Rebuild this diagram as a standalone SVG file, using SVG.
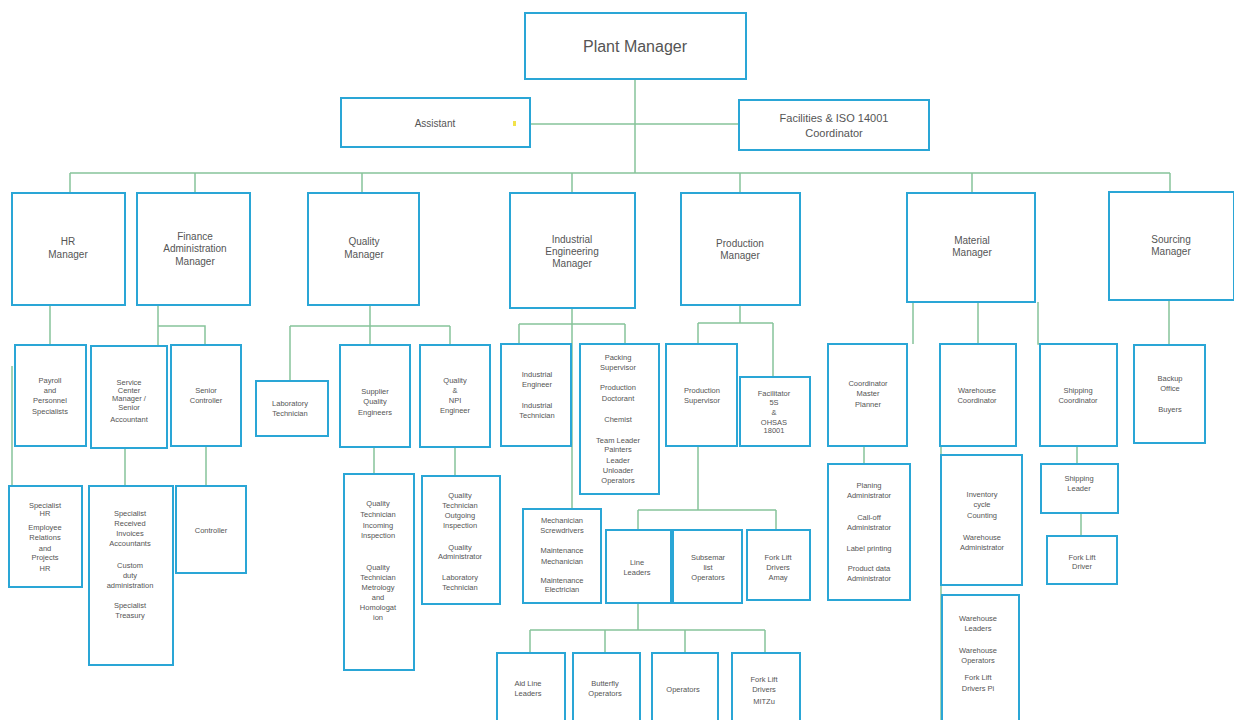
<svg xmlns="http://www.w3.org/2000/svg" width="1234" height="720" viewBox="0 0 1234 720">
<style>
.b{fill:#fff;stroke:#2aa6d6;stroke-width:2}
.c{fill:none;stroke:#86c49a;stroke-width:1.5}
text{font-family:"Liberation Sans",Arial,sans-serif;fill:#555;text-anchor:middle}
.s{font-size:7.5px}
.m{font-size:10px}
.l{font-size:11px}
.p{font-size:16px}
</style>
<rect width="1234" height="720" fill="#fff"/>
<g id="connectors">
<path class="c" d="M635 79V173M530 124H739M70 173H1170M70 173V193M195 173V193M362 173V193M572 173V193M740 173V193M972 173V193M1170 173V193"/>
<path class="c" d="M50 305V345M12 366V486M158 305V346M158 326H205V345M125 448V486M206 446V486"/>
<path class="c" d="M370 305V326M290 326H450M290 326V381M370 326V345M450 326V345M374 447V474M455 447V476"/>
<path class="c" d="M572 308V509M519 324H625M519 324V344M625 324V344"/>
<path class="c" d="M740 305V323M698 323H773M698 323V344M773 323V377M698 446V510M638 510H776M638 510V530M776 510V530M638 603V630M530 630H765M530 630V653M605 630V653M685 630V653M765 630V653"/>
<path class="c" d="M913 302V344M978 302V344M1038 302V344H1075M864 446V464M941 446V720M1077 446V464M1081 513V536M1169 300V345"/>
</g>
<g id="plant-manager"><rect class="b" x="525" y="13" width="221" height="66"/><text class="p" x="635" y="52">Plant Manager</text></g>
<g id="assistant"><rect class="b" x="341" y="98" width="189" height="49"/><text class="m" x="435" y="127">Assistant</text><rect x="513" y="121" width="3" height="5" fill="#f2e24a"/></g>
<g id="facilities"><rect class="b" x="739" y="100" width="190" height="50"/><text class="l" x="834" y="122">Facilities &amp; ISO 14001</text><text class="l" x="834" y="137">Coordinator</text></g>
<g id="hr-manager"><rect class="b" x="12" y="193" width="113" height="112"/><text class="m" x="68" y="245">HR</text><text class="m" x="68" y="258">Manager</text></g>
<g id="finance-manager"><rect class="b" x="137" y="193" width="113" height="112"/><text class="m" x="195" y="240">Finance</text><text class="m" x="195" y="252">Administration</text><text class="m" x="195" y="265">Manager</text></g>
<g id="quality-manager"><rect class="b" x="308" y="193" width="111" height="112"/><text class="m" x="364" y="245">Quality</text><text class="m" x="364" y="258">Manager</text></g>
<g id="ie-manager"><rect class="b" x="510" y="193" width="125" height="115"/><text class="m" x="572" y="243">Industrial</text><text class="m" x="572" y="255">Engineering</text><text class="m" x="572" y="267">Manager</text></g>
<g id="production-manager"><rect class="b" x="681" y="193" width="119" height="112"/><text class="m" x="740" y="247">Production</text><text class="m" x="740" y="259">Manager</text></g>
<g id="material-manager"><rect class="b" x="907" y="193" width="128" height="109"/><text class="m" x="972" y="244">Material</text><text class="m" x="972" y="256">Manager</text></g>
<g id="sourcing-manager"><rect class="b" x="1109" y="192" width="125" height="108"/><text class="m" x="1171" y="243">Sourcing</text><text class="m" x="1171" y="255">Manager</text></g>
<g id="payroll"><rect class="b" x="15" y="345" width="71" height="101"/><text class="s" x="50" y="383">Payroll</text><text class="s" x="50" y="393">and</text><text class="s" x="50" y="403">Personnel</text><text class="s" x="50" y="414">Specialists</text></g>
<g id="service-center"><rect class="b" x="91" y="346" width="76" height="102"/><text class="s" x="129" y="385">Service</text><text class="s" x="129" y="393">Center</text><text class="s" x="129" y="401">Manager /</text><text class="s" x="129" y="410">Senior</text><text class="s" x="129" y="422">Accountant</text></g>
<g id="senior-controller"><rect class="b" x="171" y="345" width="70" height="101"/><text class="s" x="206" y="393">Senior</text><text class="s" x="206" y="403">Controller</text></g>
<g id="specialist-hr"><rect class="b" x="9" y="486" width="73" height="101"/><text class="s" x="45" y="508">Specialist</text><text class="s" x="45" y="516">HR</text><text class="s" x="45" y="530">Employee</text><text class="s" x="45" y="540">Relations</text><text class="s" x="45" y="551">and</text><text class="s" x="45" y="560">Projects</text><text class="s" x="45" y="571">HR</text></g>
<g id="specialist-invoices"><rect class="b" x="89" y="486" width="84" height="179"/><text class="s" x="130" y="516">Specialist</text><text class="s" x="130" y="526">Received</text><text class="s" x="130" y="536">Invoices</text><text class="s" x="130" y="546">Accountants</text><text class="s" x="130" y="568">Custom</text><text class="s" x="130" y="578">duty</text><text class="s" x="130" y="588">administration</text><text class="s" x="130" y="608">Specialist</text><text class="s" x="130" y="618">Treasury</text></g>
<g id="controller"><rect class="b" x="176" y="486" width="70" height="87"/><text class="s" x="211" y="533">Controller</text></g>
<g id="lab-tech"><rect class="b" x="256" y="381" width="72" height="55"/><text class="s" x="290" y="406">Laboratory</text><text class="s" x="290" y="416">Technician</text></g>
<g id="supplier-quality"><rect class="b" x="340" y="345" width="70" height="102"/><text class="s" x="375" y="394">Supplier</text><text class="s" x="375" y="404">Quality</text><text class="s" x="375" y="415">Engineers</text></g>
<g id="quality-npi"><rect class="b" x="420" y="345" width="70" height="102"/><text class="s" x="455" y="383">Quality</text><text class="s" x="455" y="393">&amp;</text><text class="s" x="455" y="403">NPI</text><text class="s" x="455" y="413">Engineer</text></g>
<g id="qt-incoming"><rect class="b" x="344" y="474" width="70" height="196"/><text class="s" x="378" y="506">Quality</text><text class="s" x="378" y="517">Technician</text><text class="s" x="378" y="528">Incoming</text><text class="s" x="378" y="538">Inspection</text><text class="s" x="378" y="570">Quality</text><text class="s" x="378" y="580">Technician</text><text class="s" x="378" y="590">Metrology</text><text class="s" x="378" y="600">and</text><text class="s" x="378" y="610">Homologat</text><text class="s" x="378" y="620">ion</text></g>
<g id="qt-outgoing"><rect class="b" x="422" y="476" width="78" height="128"/><text class="s" x="460" y="498">Quality</text><text class="s" x="460" y="508">Technician</text><text class="s" x="460" y="518">Outgoing</text><text class="s" x="460" y="528">Inspection</text><text class="s" x="460" y="550">Quality</text><text class="s" x="460" y="559">Administrator</text><text class="s" x="460" y="580">Laboratory</text><text class="s" x="460" y="590">Technician</text></g>
<g id="industrial-engineer"><rect class="b" x="501" y="344" width="70" height="102"/><text class="s" x="537" y="377">Industrial</text><text class="s" x="537" y="387">Engineer</text><text class="s" x="537" y="408">Industrial</text><text class="s" x="537" y="418">Technician</text></g>
<g id="packing"><rect class="b" x="580" y="344" width="79" height="150"/><text class="s" x="618" y="360">Packing</text><text class="s" x="618" y="370">Supervisor</text><text class="s" x="618" y="390">Production</text><text class="s" x="618" y="401">Doctorant</text><text class="s" x="618" y="422">Chemist</text><text class="s" x="618" y="443">Team Leader</text><text class="s" x="618" y="452">Painters</text><text class="s" x="618" y="463">Leader</text><text class="s" x="618" y="473">Unloader</text><text class="s" x="618" y="483">Operators</text></g>
<g id="mechanician"><rect class="b" x="523" y="509" width="78" height="94"/><text class="s" x="562" y="523">Mechanician</text><text class="s" x="562" y="533">Screwdrivers</text><text class="s" x="562" y="553">Maintenance</text><text class="s" x="562" y="564">Mechanician</text><text class="s" x="562" y="583">Maintenance</text><text class="s" x="562" y="592">Electrician</text></g>
<g id="production-supervisor"><rect class="b" x="666" y="344" width="71" height="102"/><text class="s" x="702" y="393">Production</text><text class="s" x="702" y="403">Supervisor</text></g>
<g id="facilitator"><rect class="b" x="740" y="377" width="70" height="69"/><text class="s" x="774" y="396">Facilitator</text><text class="s" x="774" y="405">5S</text><text class="s" x="774" y="415">&amp;</text><text class="s" x="774" y="425">OHSAS</text><text class="s" x="774" y="433">18001</text></g>
<g id="line-leaders"><rect class="b" x="606" y="530" width="65" height="73"/><text class="s" x="637" y="565">Line</text><text class="s" x="637" y="575">Leaders</text></g>
<g id="sub-operators"><rect class="b" x="673" y="530" width="69" height="73"/><text class="s" x="708" y="560">Subsemar</text><text class="s" x="708" y="570">list</text><text class="s" x="708" y="580">Operators</text></g>
<g id="forklift-amay"><rect class="b" x="747" y="530" width="63" height="70"/><text class="s" x="778" y="560">Fork Lift</text><text class="s" x="778" y="570">Drivers</text><text class="s" x="778" y="580">Amay</text></g>
<g id="aid-line-leaders"><rect class="b" x="497" y="653" width="68" height="70"/><text class="s" x="528" y="686">Aid Line</text><text class="s" x="528" y="696">Leaders</text></g>
<g id="butterfly"><rect class="b" x="573" y="653" width="67" height="70"/><text class="s" x="605" y="686">Butterfly</text><text class="s" x="605" y="696">Operators</text></g>
<g id="operators"><rect class="b" x="652" y="653" width="66" height="70"/><text class="s" x="683" y="692">Operators</text></g>
<g id="forklift-mitzu"><rect class="b" x="732" y="653" width="68" height="70"/><text class="s" x="764" y="682">Fork Lift</text><text class="s" x="764" y="692">Drivers</text><text class="s" x="764" y="704">MITZu</text></g>
<g id="master-planner"><rect class="b" x="828" y="344" width="79" height="102"/><text class="s" x="868" y="386">Coordinator</text><text class="s" x="868" y="396">Master</text><text class="s" x="868" y="407">Planner</text></g>
<g id="warehouse-coordinator"><rect class="b" x="940" y="344" width="76" height="102"/><text class="s" x="977" y="393">Warehouse</text><text class="s" x="977" y="403">Coordinator</text></g>
<g id="shipping-coordinator"><rect class="b" x="1040" y="344" width="77" height="102"/><text class="s" x="1078" y="393">Shipping</text><text class="s" x="1078" y="403">Coordinator</text></g>
<g id="planning-admin"><rect class="b" x="828" y="464" width="82" height="136"/><text class="s" x="869" y="488">Planing</text><text class="s" x="869" y="498">Administrator</text><text class="s" x="869" y="520">Call-off</text><text class="s" x="869" y="530">Administrator</text><text class="s" x="869" y="551">Label printing</text><text class="s" x="869" y="571">Product data</text><text class="s" x="869" y="581">Administrator</text></g>
<g id="inventory"><rect class="b" x="941" y="455" width="81" height="130"/><text class="s" x="982" y="497">Inventory</text><text class="s" x="982" y="507">cycle</text><text class="s" x="982" y="518">Counting</text><text class="s" x="982" y="540">Warehouse</text><text class="s" x="982" y="550">Administrator</text></g>
<g id="warehouse-leaders"><rect class="b" x="942" y="595" width="77" height="128"/><text class="s" x="978" y="621">Warehouse</text><text class="s" x="978" y="631">Leaders</text><text class="s" x="978" y="653">Warehouse</text><text class="s" x="978" y="663">Operators</text><text class="s" x="978" y="680">Fork Lift</text><text class="s" x="978" y="691">Drivers Pi</text></g>
<g id="shipping-leader"><rect class="b" x="1041" y="464" width="77" height="49"/><text class="s" x="1079" y="481">Shipping</text><text class="s" x="1079" y="491">Leader</text></g>
<g id="forklift-driver"><rect class="b" x="1047" y="536" width="70" height="48"/><text class="s" x="1082" y="560">Fork Lift</text><text class="s" x="1082" y="569">Driver</text></g>
<g id="backup-office"><rect class="b" x="1134" y="345" width="71" height="98"/><text class="s" x="1170" y="381">Backup</text><text class="s" x="1170" y="391">Office</text><text class="s" x="1170" y="412">Buyers</text></g>
</svg>
